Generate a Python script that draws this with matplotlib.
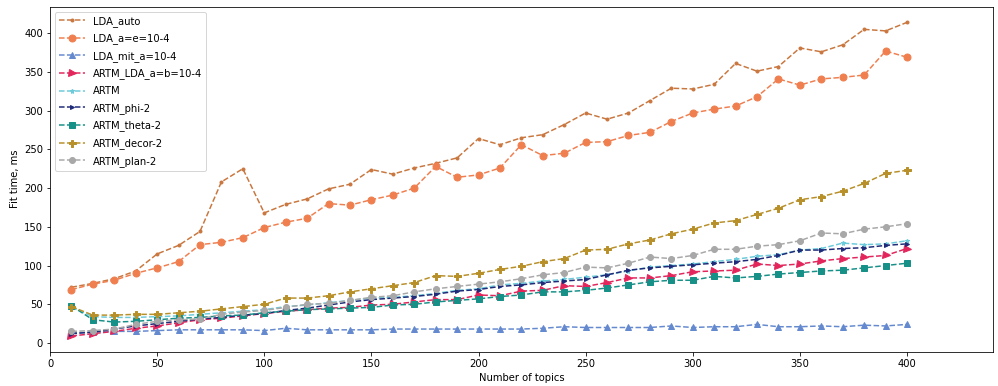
import matplotlib
matplotlib.use("Agg")
import matplotlib.pyplot as plt

topics = list(range(10, 401, 10))

lda_auto = [72, 77, 83, 93, 115, 126, 144, 208, 225, 168, 179, 186, 199, 205, 224, 218, 226, 232, 239, 264,
            256, 265, 269, 282, 297, 289, 297, 313, 329, 328, 334, 361, 351, 357, 381, 376, 385, 405, 403, 414]
lda_ae = [69, 76, 81, 90, 97, 105, 127, 130, 136, 149, 156, 161, 180, 178, 185, 191, 200, 228, 214, 217,
          226, 256, 242, 245, 259, 260, 268, 272, 286, 297, 302, 306, 318, 341, 333, 341, 343, 346, 377, 369]
lda_mit = [13, 14, 15, 15, 16, 17, 17, 17, 17, 16, 19, 17, 17, 17, 17, 18, 18, 18, 18, 18,
           18, 18, 19, 21, 20, 20, 20, 20, 22, 20, 21, 21, 24, 21, 21, 22, 21, 23, 22, 24]
artm_lda = [9, 12, 15, 19, 22, 26, 30, 32, 35, 38, 41, 43, 45, 46, 49, 50, 53, 56, 56, 62,
            61, 67, 68, 74, 73, 78, 84, 84, 87, 92, 93, 94, 102, 100, 102, 106, 109, 111, 113, 122]
artm = [46, 34, 33, 33, 34, 35, 37, 39, 41, 43, 47, 49, 52, 55, 58, 59, 61, 64, 68, 70,
        75, 77, 80, 82, 85, 88, 93, 98, 100, 102, 105, 108, 112, 114, 120, 122, 129, 127, 128, 132]
artm_phi = [12, 14, 18, 22, 25, 28, 31, 33, 36, 38, 42, 45, 49, 53, 56, 58, 60, 63, 67, 69,
            73, 75, 78, 80, 82, 88, 94, 97, 99, 101, 103, 105, 108, 113, 120, 120, 122, 123, 126, 128]
artm_theta = [48, 30, 27, 28, 30, 32, 33, 35, 36, 39, 41, 43, 44, 45, 46, 49, 50, 53, 55, 57,
              60, 62, 66, 66, 68, 71, 75, 79, 81, 81, 86, 84, 86, 89, 91, 93, 94, 97, 100, 103]
artm_decor = [47, 36, 36, 37, 37, 39, 41, 44, 47, 50, 58, 58, 61, 66, 70, 74, 78, 87, 86, 90,
              95, 99, 105, 109, 120, 121, 128, 133, 141, 147, 155, 158, 166, 174, 185, 189, 196, 206, 219, 223]
artm_plan = [15, 16, 18, 24, 28, 30, 31, 37, 40, 42, 46, 50, 51, 55, 59, 61, 66, 70, 73, 76,
             79, 83, 88, 91, 98, 97, 103, 111, 109, 113, 121, 121, 125, 127, 132, 142, 141, 147, 150, 154]

labels = ["LDA_auto", "LDA_a=e=10-4", "LDA_mit_a=10-4", "ARTM_LDA_a=b=10-4", "ARTM",
          "ARTM_phi-2", "ARTM_theta-2", "ARTM_decor-2", "ARTM_plan-2"]
series = [lda_auto, lda_ae, lda_mit, artm_lda, artm, artm_phi, artm_theta, artm_decor, artm_plan]
colors = ["#c9773f", "#f07f50", "#6489cf", "#e2265c", "#6ccbdb",
          "#1f2a78", "#179087", "#b8902a", "#a8a8a8"]
markers = [".", "o", "^", ">", "*", ">", "s", "P", "o"]
msizes = [6, 7, 6, 7, 5, 4, 6, 7, 6]

plt.rcParams["font.family"] = ["DejaVu Sans"]
fig = plt.figure(figsize=(998 / 72, 386 / 72), dpi=72)
ax = fig.add_axes([50 / 998, 1 - 351.7 / 386, (992.7 - 50) / 998, (351.7 - 6.7) / 386])

for ys, lab, c, m, ms in zip(series, labels, colors, markers, msizes):
    ax.plot(topics, ys, linestyle="--", marker=m, color=c, label=lab, markersize=ms, linewidth=1.5)

ax.set_xlim(0, 440)
ax.set_xlabel("Number of topics", fontsize=10)
ax.set_ylabel("Fit time, ms", fontsize=10)
ax.tick_params(labelsize=10)
ax.legend(loc="upper left", fontsize=10, handlelength=2.6, labelspacing=0.67)

fig.savefig("out.png", dpi=72)
